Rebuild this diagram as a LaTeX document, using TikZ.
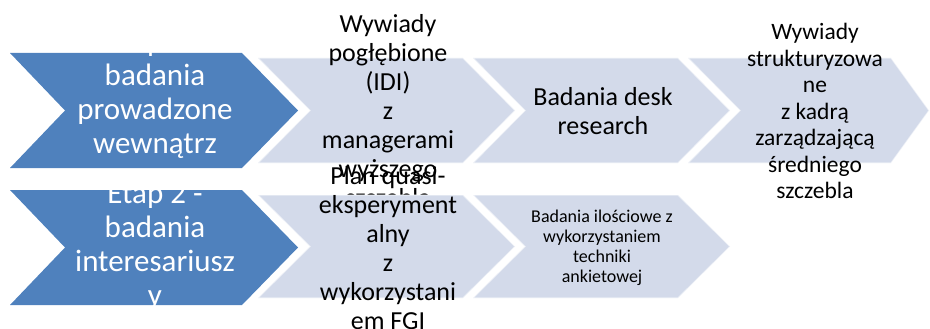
\documentclass[tikz,border=0pt]{standalone}
\usepackage{fontspec}
\setmainfont{Carlito}
\definecolor{accblue}{HTML}{4F81BD}
\definecolor{lightfill}{HTML}{D3DAEA}
\begin{document}
\begin{tikzpicture}[x=1pt,y=-1pt,
  bluechev/.style={fill=accblue},
  lightchev/.style={fill=lightfill, draw=white, draw opacity=0.55, line width=1.2pt},
  btext/.style={text=white, align=center, inner sep=0pt, font=\fontsize{31}{34}\selectfont},
  ltextA/.style={text=black, align=center, inner sep=0pt, font=\fontsize{26}{29}\selectfont},
  ltextB/.style={text=black, align=center, inner sep=0pt, font=\fontsize{23.5}{26.5}\selectfont},
  ltextC/.style={text=black, align=center, inner sep=0pt, font=\fontsize{18}{20}\selectfont}]
\useasboundingbox (0,0) rectangle (930,329);
% ---- row 1 shapes
\path[bluechev] (10,53) -- (242,53) -- (298,110.5) -- (242,168) -- (10,168) -- (65,110.5) -- cycle;
\path[lightchev] (258,58) -- (463,58) -- (515,110.5) -- (463,163) -- (258,163) -- (310,110.5) -- cycle;
\path[lightchev] (473,58) -- (678,58) -- (730,110.5) -- (678,163) -- (473,163) -- (525,110.5) -- cycle;
\path[lightchev] (688,58) -- (891,58) -- (929,110.5) -- (891,163) -- (688,163) -- (740,110.5) -- cycle;
% ---- row 1 texts
\node[btext] (t11) at (155,95) {Etap 1 -\\badania\\prowadzone\\wewnątrz};
\node[ltextA] (t12) at (388,111) {Wywiady\\pogłębione\\(IDI)\\z\\managerami\\wyższego\\szczebla};
\node[ltextA] (t13) at (603,111.5) {Badania desk\\research};
\node[ltextB] (t14) at (815,111) {Wywiady\\strukturyzowa\\ne\\z kadrą\\zarządzającą\\średniego\\szczebla};
% ---- row 2 shapes
\path[bluechev] (10,190) -- (242,190) -- (298,247.5) -- (242,305) -- (10,305) -- (65,247.5) -- cycle;
\path[lightchev] (258,195) -- (463,195) -- (515,246.5) -- (463,298) -- (258,298) -- (310,246.5) -- cycle;
\path[lightchev] (473,195) -- (678,195) -- (730,246.5) -- (678,298) -- (473,298) -- (525,246.5) -- cycle;
% ---- row 2 texts
\node[btext] (t21) at (155,246.5) {Etap 2 -\\badania\\interesariusz\\y};
\node[ltextA] (t22) at (388,248) {Plan quasi-\\eksperyment\\alny\\z\\wykorzystani\\em FGI};
\node[ltextC] (t23) at (602,247.5) {Badania ilościowe z\\wykorzystaniem\\techniki\\ankietowej};
\end{tikzpicture}
\end{document}
